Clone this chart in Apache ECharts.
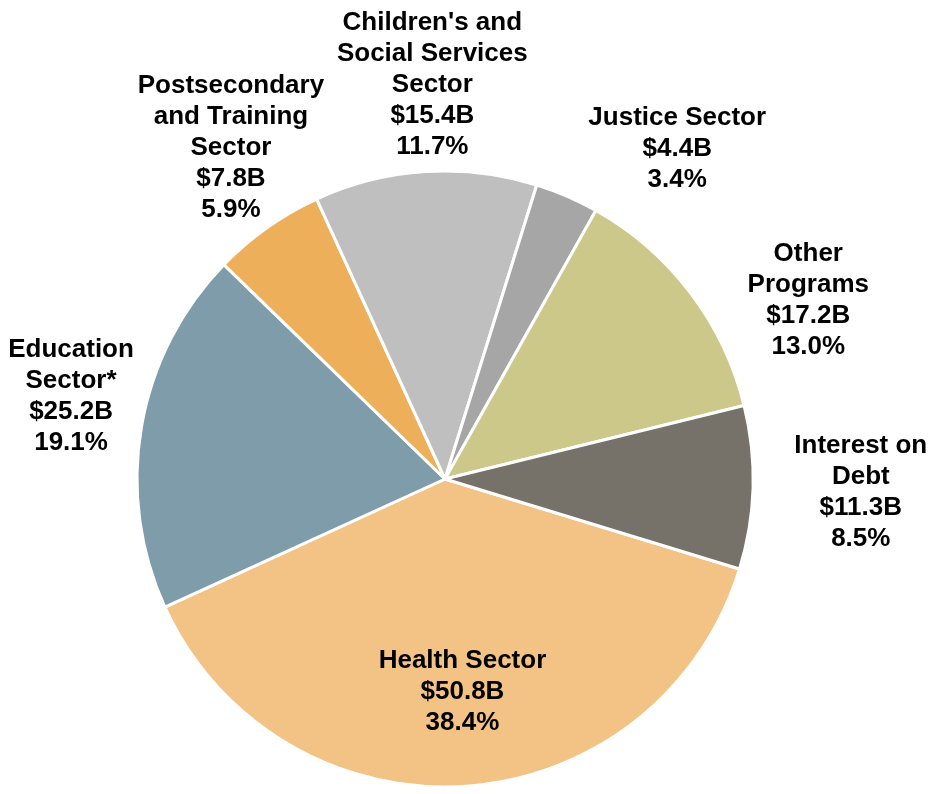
<!DOCTYPE html>
<html>
<head>
<meta charset="utf-8">
<title>Expense by Sector</title>
<script src="https://cdn.jsdelivr.net/npm/echarts@6/dist/echarts.min.js"></script>
<style>
  html, body { margin: 0; padding: 0; background: #ffffff; }
  #chart { width: 935px; height: 794px; }
</style>
</head>
<body>
<div id="chart"></div>
<script>
// Sector names (line breaks as shown in the labels)
const categories = [
  'Health Sector',
  'Education\nSector*',
  'Postsecondary\nand Training\nSector',
  "Children's and\nSocial Services\nSector",
  'Justice Sector',
  'Other\nPrograms',
  'Interest on\nDebt'
];
// Spending, billions of dollars
const amounts = [50.8, 25.2, 7.8, 15.4, 4.4, 17.2, 11.3];
// Share of total expense as published
const shares = ['38.4%', '19.1%', '5.9%', '11.7%', '3.4%', '13.0%', '8.5%'];

// Slice colours
const colors = ['#f3c386', '#7f9caa', '#eeaf5a', '#bfbfbf', '#a6a6a6', '#cbc88a', '#767269'];

// Pie geometry
const CX = 445, CY = 479, R = 308, START = -17;
// Label placement: distance from the centre and angular shift from each slice's mid-angle
const labelDistance = [214, 383, 394, 394, 404, 405, 416];
const labelAngleShift = [0.9, -2.7, -2.35, -1.8, -11.75, -11.0, -0.2];

const total = amounts.reduce((a, b) => a + b, 0);
const midAngles = [];
let acc = 0;
amounts.forEach(v => {
  midAngles.push(START - 360 * (acc + v / 2) / total);
  acc += v;
});

const chart = echarts.init(document.getElementById('chart'), null, { renderer: 'canvas' });

chart.setOption({
  animation: false,
  backgroundColor: '#ffffff',
  series: [{
    type: 'pie',
    center: [CX, CY],
    radius: [0, R],
    startAngle: START,
    clockwise: true,
    avoidLabelOverlap: false,
    emphasis: { disabled: true },
    itemStyle: { borderColor: '#ffffff', borderWidth: 3 },
    label: {
      show: true,
      position: 'inside',
      color: '#000000',
      fontFamily: '"Liberation Sans", Arial, sans-serif',
      fontWeight: 'bold',
      fontSize: 26,
      lineHeight: 31,
      align: 'center',
      formatter: p => p.name + '\n$' + p.value.toFixed(1) + 'B\n' + shares[p.dataIndex]
    },
    labelLine: { show: false },
    labelLayout: params => {
      const i = params.dataIndex;
      const a = (midAngles[i] + labelAngleShift[i]) * Math.PI / 180;
      return {
        x: CX + labelDistance[i] * Math.cos(a),
        y: CY - labelDistance[i] * Math.sin(a),
        align: 'center',
        verticalAlign: 'middle'
      };
    },
    data: categories.map((name, i) => ({
      name: name,
      value: amounts[i],
      itemStyle: { color: colors[i] }
    }))
  }]
});
</script>
</body>
</html>
